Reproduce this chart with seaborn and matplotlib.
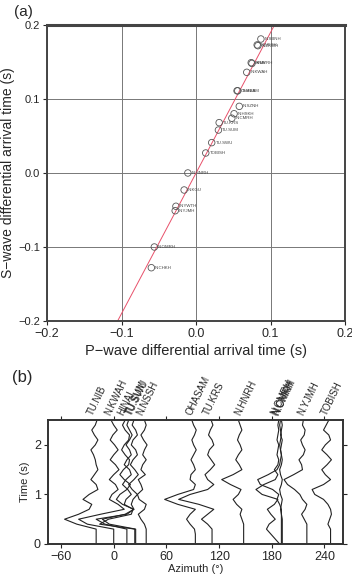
import numpy as np
import pandas as pd
import matplotlib
import matplotlib.pyplot as plt
import seaborn as sns

matplotlib.use('Agg')

# ---- panel (a): differential arrival times ----
stations_a = ['N.SBNH', 'N.NSSH', 'N.ZKWH', 'HINAI', 'N.MYRH', 'N.KWAH', 'OHASAM',
              'TU.NIB', 'N.SZNH', 'N.HSKH', 'N.CMRH', 'TU.KRS', 'TU.SUM', 'TU.SWU',
              'TOBISH', 'N.HNRH', 'N.KGU', 'N.YWTH', 'N.YJMH', 'N.OMRH', 'N.CHKH']
p_dt = [0.087, 0.082, 0.083, 0.074, 0.075, 0.068, 0.055,
        0.056, 0.058, 0.051, 0.048, 0.031, 0.030, 0.021,
        0.013, -0.011, -0.016, -0.027, -0.028, -0.056, -0.060]
s_dt = [0.181, 0.173, 0.172, 0.149, 0.148, 0.136, 0.111,
        0.111, 0.090, 0.080, 0.074, 0.068, 0.058, 0.041,
        0.027, 0.000, -0.023, -0.045, -0.051, -0.100, -0.128]
fit_slope = 1.9

# ---- panel (b): waveforms vs azimuth ----
time_s = [0.0, 0.1, 0.2, 0.3, 0.4, 0.5, 0.6, 0.7, 0.8, 0.9, 1.0, 1.1, 1.2,
          1.3, 1.4, 1.5, 1.6, 1.7, 1.8, 1.9, 2.0, 2.1, 2.2, 2.3, 2.4, 2.5]
trace_names = ['TU.NIB', 'N.KWAH', 'HINAI', 'TU.SUM', 'TU.SWU', 'N.NSSH', 'OHASAM',
               'TU.KRS', 'N.HNRH', 'N.CMRH', 'N.OMRH', 'N.CHKH', 'N.YJMH', 'TOBISH']
trace_azimuth = [-20, 0, 15, 24, 25, 37, 93, 112, 148, 189, 191, 192, 220, 247]
tu_nib = [0, 0, 0, 0, -22, -36, -20, -8, -5, -15, -8, 2, 0, -6, -2, 2, 0, -1, -3, -6, -1, 2, -2, -5, -1, 1]
n_kwah = [0, 0, 0, 0, -30, -40, -15, 12, 5, -5, -2, 5, 2, -5, 0, 6, 2, -4, 0, 5, 1, -4, -1, 4, 0, -3]
hinai = [0, 0, 0, 0, -25, -35, 0, 8, -5, -12, -8, 0, 4, -3, -8, -4, 2, 3, -2, -6, -3, 2, 3, -2, -5, -2]
tu_sum = [0, 0, 0, 0, -40, -30, -4, -2, -12, -10, -4, -8, -14, -10, -4, -6, -12, -9, -4, -6, -10, -6, -3, -6, -9, -7]
tu_swu = [0, 0, 0, 0, -30, -38, -12, -2, -5, -3, 2, -4, -8, -2, 3, -1, -6, -3, 2, 0, -5, -3, 2, 0, -4, -2]
n_nssh = [0, 0, 0, 0, -2, -6, -9, -2, 0, -8, -10, -4, -6, -9, -1, -6, -4, 0, -4, -2, 1, -3, -6, -2, 0, -2]
ohasam = [0, 0, 0, -1, -6, -10, -6, 0, -20, -35, -20, -2, 0, -6, -5, 0, -2, -5, -2, 1, -2, -4, -1, 1, -2, -4]
tu_krs = [0, 0, 0, 0, -5, -12, -5, 2, -15, -38, -25, -5, 2, -5, -8, -2, 3, -1, -5, -3, 2, 0, -4, -2, 1, -1]
n_hnrh = [0, 0, 0, 0, 0, -2, -4, -2, -8, -12, -6, -3, -15, -25, -12, -2, -5, -9, -6, -2, -4, -7, -5, -2, -4, -6]
n_cmrh = [0, -5, -10, -15, -12, -5, -10, -14, -6, -2, -20, -27, -18, -5, -2, -6, -2, -1, -3, -2, -1, -3, -2, -1, -2, -1]
n_omrh = [0, 0, 0, 0, 0, 0, 0, 0, -2, -5, -3, -10, -24, -27, -15, -5, -2, -1, 0, -1, -2, -1, 0, -1, -2, -1]
n_chkh = [0, 0, 0, 0, 0, 0, -1, -2, -1, 0, -2, -3, -1, 0, -2, -3, -1, 0, -1, -2, -1, 0, -2, -1, 0, -1]
n_yjmh = [0, 0, 0, 0, 0, -3, -6, -2, 0, -5, -8, -14, -22, -26, -15, -5, -6, -9, -4, -2, -5, -7, -3, -2, -5, -4]
tobish = [0, 0, 0, 0, -3, -1, 1, 0, -3, -8, -18, -21, -8, 0, -6, -10, -4, 1, -4, -10, -6, 0, -2, -8, -5, -2]
trace_offsets = [tu_nib, n_kwah, hinai, tu_sum, tu_swu, n_nssh, ohasam,
                 tu_krs, n_hnrh, n_cmrh, n_omrh, n_chkh, n_yjmh, tobish]

sns.set_style('ticks')
plt.rcParams['font.family'] = ['Liberation Sans', 'DejaVu Sans']

fig = plt.figure(figsize=(3.52, 5.76), dpi=100)

# ---------------- (a) ----------------
ax = fig.add_axes([0.1335, 0.4427, 0.847, 0.514])
df_a = pd.DataFrame({'P': p_dt, 'S': s_dt, 'name': stations_a})
ax.axline((0, 0), slope=fit_slope, color='#e8506a', lw=0.7, zorder=2)
sns.scatterplot(data=df_a, x='P', y='S', ax=ax, s=22, facecolor='none',
                edgecolor='#555555', linewidth=0.6, zorder=3)
for _, r in df_a.iterrows():
    ax.text(r['P'] + 0.005, r['S'], r['name'], fontsize=3.2, va='center',
            ha='left', color='#444444', zorder=4)
ax.set_xlim(-0.2, 0.2)
ax.set_ylim(-0.2, 0.2)
ax.set_xticks([-0.2, -0.1, 0.0, 0.1, 0.2])
ax.set_yticks([-0.2, -0.1, 0.0, 0.1, 0.2])
ax.set_xticklabels(['\u22120.2', '\u22120.1', '0.0', '0.1', '0.2'], fontsize=9)
ax.set_yticklabels(['\u22120.2', '\u22120.1', '0.0', '0.1', '0.2'], fontsize=8)
ax.grid(True, color='#777777', lw=0.7)
ax.set_axisbelow(True)
for sp in ax.spines.values():
    sp.set_linewidth(1.4)
    sp.set_color('#444444')
ax.spines['top'].set_linewidth(2.2)
ax.tick_params(length=3, width=0.8, pad=2)
ax.set_xlabel('P\u2212wave differential arrival time (s)', fontsize=10.5, labelpad=3)
ax.set_ylabel('S\u2212wave differential arrival time (s)', fontsize=10, labelpad=2)

# ---------------- (b) ----------------
bx = fig.add_axes([0.136, 0.0556, 0.838, 0.215])
for name, az, off in zip(trace_names, trace_azimuth, trace_offsets):
    tr = pd.DataFrame({'azimuth': np.array(off, dtype=float) + az, 'time': time_s})
    sns.lineplot(data=tr, x='azimuth', y='time', ax=bx, sort=False, orient='y',
                 estimator=None, color='#222222', lw=0.8)
    bx.text(az - 2, 2.56, name, rotation=64, rotation_mode='anchor',
            ha='left', va='bottom', fontsize=7, clip_on=False)
bx.set_xlim(-75, 261)
bx.set_ylim(0, 2.5)
bx.set_xticks([-60, 0, 60, 120, 180, 240])
bx.set_xticklabels(['\u221260', '0', '60', '120', '180', '240'], fontsize=9)
bx.set_yticks([0, 1, 2])
bx.set_yticklabels(['0', '1', '2'], fontsize=9)
bx.tick_params(top=True, right=True, length=3, width=0.8, pad=2)
for sp in bx.spines.values():
    sp.set_linewidth(1.4)
    sp.set_color('#333333')
bx.set_xlabel('Azimuth (\u00b0)', fontsize=8, labelpad=1)
bx.set_ylabel('Time (s)', fontsize=8, labelpad=3)

fig.text(0.068, 0.979, '(a)', fontsize=11, ha='center', va='center')
fig.text(0.0625, 0.344, '(b)', fontsize=12, ha='center', va='center')

fig.savefig('out.png', dpi=100)
